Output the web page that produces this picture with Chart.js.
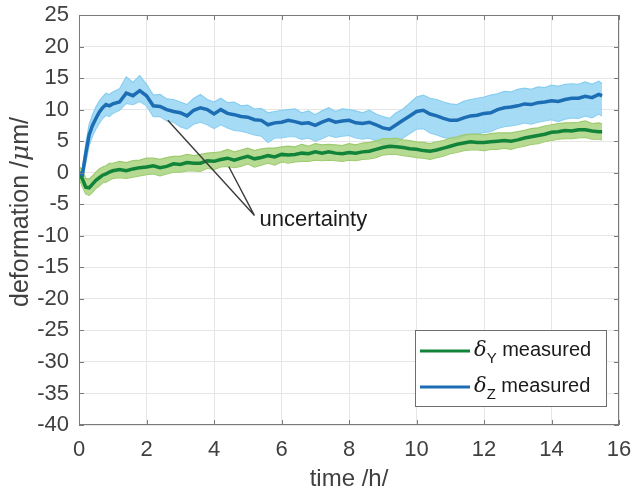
<!DOCTYPE html>
<html>
<head>
<meta charset="utf-8">
<script src="https://cdn.jsdelivr.net/npm/chart.js@4.4.1/dist/chart.umd.min.js"></script>
<style>
  body { margin: 0; background: #fff; }
  canvas { display: block; }
</style>
</head>
<body>
<canvas id="deformationChart" width="632" height="495"></canvas>
<script>
// measurement time in hours
const timeH = [
    0, 0.1, 0.2, 0.3, 0.4, 0.5, 0.6, 0.7, 0.8, 0.9,
    1.0, 1.2, 1.4, 1.6, 1.8, 2.0, 2.2, 2.4, 2.6, 2.8,
    3.0, 3.2, 3.4, 3.6, 3.8, 4.0, 4.2, 4.4, 4.6, 4.8,
    5.0, 5.2, 5.4, 5.6, 5.8, 6.0, 6.2, 6.4, 6.6, 6.8,
    7.0, 7.2, 7.4, 7.6, 7.8, 8.0, 8.2, 8.4, 8.6, 8.8,
    9.0, 9.2, 9.4, 9.6, 9.8, 10.0, 10.2, 10.4, 10.6, 10.8,
    11.0, 11.2, 11.4, 11.6, 11.8, 12.0, 12.2, 12.4, 12.6, 12.8,
    13.0, 13.2, 13.4, 13.6, 13.8, 14.0, 14.2, 14.4, 14.6, 14.8,
    15.0, 15.2, 15.4, 15.5
];

// delta Y measured (um) and its uncertainty band
const deltaY = [
    0, -1.0, -2.3, -2.4, -1.8, -1.2, -0.8, -0.4, -0.2, 0.1,
    0.3, 0.5, 0.3, 0.6, 0.8, 0.9, 1.1, 0.8, 1.0, 1.4,
    1.3, 1.6, 1.5, 1.5, 1.9, 1.8, 2.1, 2.3, 2.0, 2.3,
    2.6, 2.2, 2.4, 2.7, 2.5, 2.9, 2.8, 2.9, 3.1, 3.0,
    3.3, 3.1, 3.3, 3.1, 3.0, 3.2, 3.1, 3.3, 3.4, 3.7,
    4.0, 4.2, 4.1, 4.0, 3.8, 3.7, 3.5, 3.4, 3.6, 3.9,
    4.2, 4.5, 4.7, 4.9, 4.8, 4.8, 4.9, 5.0, 5.1, 5.0,
    5.2, 5.5, 5.7, 5.9, 6.1, 6.4, 6.5, 6.7, 6.6, 6.8,
    6.8, 6.6, 6.5, 6.5
];
const deltaYUpper = [
    1.0, 0.4, -0.9, -1.0, -0.5, 0.1, 0.6, 0.9, 1.1, 1.5,
    1.5, 1.8, 1.6, 1.9, 2.0, 2.3, 2.3, 2.1, 2.4, 2.6,
    2.6, 2.9, 2.7, 2.9, 3.1, 3.2, 3.3, 3.7, 3.3, 3.6,
    3.9, 3.5, 3.8, 3.9, 3.9, 4.1, 4.2, 4.1, 4.5, 4.2,
    4.6, 4.4, 4.5, 4.4, 4.3, 4.6, 4.4, 4.7, 4.8, 5.0,
    5.4, 5.4, 5.5, 5.2, 5.1, 4.9, 4.8, 4.6, 4.9, 5.1,
    5.5, 5.7, 6.0, 6.1, 6.1, 6.0, 6.2, 6.3, 6.3, 6.3,
    6.5, 6.7, 7.0, 7.1, 7.4, 7.6, 7.8, 7.9, 7.9, 8.0,
    8.2, 7.8, 7.9, 7.7
];
const deltaYLower = [
    -1.0, -2.2, -3.4, -3.6, -3.1, -2.5, -2.1, -1.6, -1.5, -1.2,
    -0.9, -0.8, -0.9, -0.7, -0.5, -0.3, -0.2, -0.5, -0.2, 0.1,
    0.1, 0.3, 0.3, 0.2, 0.7, 0.5, 0.9, 1.0, 0.8, 1.0,
    1.4, 0.9, 1.2, 1.5, 1.2, 1.7, 1.5, 1.7, 1.8, 1.8,
    2.0, 1.9, 2.0, 1.9, 1.8, 2.0, 1.9, 2.1, 2.2, 2.4,
    2.8, 2.9, 2.9, 2.7, 2.6, 2.4, 2.3, 2.1, 2.4, 2.6,
    3.0, 3.2, 3.5, 3.6, 3.6, 3.5, 3.7, 3.7, 3.9, 3.7,
    4.0, 4.2, 4.5, 4.6, 4.9, 5.1, 5.3, 5.4, 5.4, 5.5,
    5.6, 5.3, 5.3, 5.2
];

// delta Z measured (um) and its uncertainty band
const deltaZ = [
    0, -0.3, 3.0, 6.0, 7.5, 8.6, 9.6, 10.3, 10.8, 10.6,
    10.9, 11.2, 12.6, 12.2, 13.0, 12.2, 10.6, 10.5, 10.0, 9.7,
    9.5, 9.0, 9.9, 10.3, 10.0, 9.3, 10.0, 9.4, 9.2, 8.9,
    8.8, 8.4, 8.3, 7.6, 7.9, 8.0, 8.3, 8.1, 7.8, 7.9,
    7.5, 8.0, 8.4, 8.0, 8.2, 8.3, 7.9, 7.8, 8.0, 7.6,
    7.1, 6.9, 7.6, 8.3, 9.0, 9.7, 9.9, 9.3, 9.0, 8.6,
    8.3, 8.3, 8.7, 9.0, 9.1, 9.4, 9.5, 10.0, 10.3, 10.4,
    10.6, 10.9, 10.8, 11.1, 11.2, 11.4, 11.3, 11.6, 11.8, 11.8,
    12.1, 11.9, 12.4, 12.2
];
const deltaZUpper = [
    0.8, 0.6, 4.6, 7.6, 9.2, 10.4, 11.3, 12.0, 12.6, 12.4,
    12.8, 13.3, 15.2, 14.3, 15.4, 14.0, 12.3, 12.4, 11.7, 11.6,
    11.2, 10.8, 11.8, 12.4, 11.6, 11.2, 11.8, 11.1, 11.2, 10.6,
    10.7, 10.1, 10.2, 9.5, 9.7, 9.9, 10.0, 10.1, 9.5, 9.8,
    9.2, 9.8, 10.3, 9.7, 10.1, 10.0, 9.8, 9.5, 9.9, 9.3,
    8.9, 8.6, 9.5, 10.1, 11.0, 12.0, 12.3, 11.8, 11.6, 11.2,
    10.9, 10.8, 11.3, 11.6, 11.8, 12.0, 12.3, 12.5, 12.9, 12.8,
    13.2, 13.4, 13.2, 13.6, 13.5, 13.9, 13.7, 14.0, 14.1, 14.0,
    14.4, 14.0, 14.5, 14.1
];
const deltaZLower = [
    -0.8, -1.2, 1.5, 4.3, 5.8, 6.9, 7.8, 8.6, 9.1, 8.9,
    9.4, 9.9, 11.0, 10.8, 11.3, 10.6, 8.9, 8.9, 8.2, 8.0,
    7.3, 6.9, 7.7, 8.0, 7.6, 7.0, 7.6, 7.1, 6.7, 6.6,
    6.3, 6.0, 5.8, 4.8, 5.5, 5.5, 5.7, 5.7, 5.3, 5.5,
    5.0, 5.4, 5.9, 5.6, 5.8, 5.9, 5.5, 5.3, 5.5, 5.0,
    4.5, 4.2, 4.8, 5.5, 6.2, 6.9, 7.0, 6.3, 6.0, 5.6,
    5.4, 5.3, 5.8, 6.1, 6.1, 6.4, 6.5, 7.0, 7.3, 7.4,
    7.6, 7.9, 7.7, 8.0, 8.2, 8.4, 8.1, 8.5, 8.7, 8.6,
    9.0, 8.7, 9.3, 9.0
];

const xTickValues = [0, 2, 4, 6, 8, 10, 12, 14, 16];
const yTickValues = [25, 20, 15, 10, 5, 0, -5, -10, -15, -20, -25, -30, -35, -40];
const legendSubscripts = ['Y', 'Z'];

const FONT = '"Liberation Sans", Arial, sans-serif';
const GREEN = '#12843a';
const BLUE = '#1c6db4';
const AXIS_GRAY = '#7a7a7a';
const TEXT_GRAY = '#404040';

// turn a value array into {x, y} points on the time axis
function toPoints(values) {
    return values.map((v, i) => ({ x: timeH[i], y: v }));
}

// box around the plot area plus inward tick marks on all four sides
const axesBox = {
    id: 'axesBox',
    afterDatasetsDraw(chart) {
        const { ctx, chartArea: a, scales } = chart;
        ctx.save();
        ctx.strokeStyle = AXIS_GRAY;
        ctx.lineWidth = 1;
        ctx.strokeRect(a.left + 0.5, a.top + 0.5, a.right - a.left - 1, a.bottom - a.top - 1);
        ctx.beginPath();
        xTickValues.forEach(v => {
            const px = Math.round(scales.x.getPixelForValue(v)) + 0.5;
            ctx.moveTo(px, a.bottom); ctx.lineTo(px, a.bottom - 5);
            ctx.moveTo(px, a.top); ctx.lineTo(px, a.top + 5);
        });
        yTickValues.forEach(v => {
            const py = Math.round(scales.y.getPixelForValue(v)) + 0.5;
            ctx.moveTo(a.left, py); ctx.lineTo(a.left + 5, py);
            ctx.moveTo(a.right, py); ctx.lineTo(a.right - 5, py);
        });
        ctx.stroke();
        ctx.restore();
    }
};

// "uncertainty" note with two leader lines into the bands
const uncertaintyNote = {
    id: 'uncertaintyNote',
    afterDatasetsDraw(chart) {
        const { ctx, scales } = chart;
        const px = (t, v) => [scales.x.getPixelForValue(t), scales.y.getPixelForValue(v)];
        const [ex, ey] = px(5.2, -6.8);
        const targets = [px(2.63, 8.3), px(4.44, 0.94)];
        ctx.save();
        ctx.strokeStyle = '#3c3c3c';
        ctx.lineWidth = 1.4;
        ctx.beginPath();
        targets.forEach(([tx, ty]) => { ctx.moveTo(tx, ty); ctx.lineTo(ex, ey); });
        ctx.stroke();
        const [lx, ly] = px(5.35, -8.53);
        ctx.fillStyle = '#1a1a1a';
        ctx.font = '22px ' + FONT;
        ctx.textBaseline = 'alphabetic';
        ctx.fillText('uncertainty', lx, ly);
        ctx.restore();
    }
};

// legend box in the lower right corner, with delta symbols and subscripts
const deltaLegend = {
    id: 'deltaLegend',
    afterDraw(chart) {
        const { ctx } = chart;
        const colors = [GREEN, BLUE];
        ctx.save();
        ctx.fillStyle = '#fff';
        ctx.fillRect(415.5, 330.5, 191, 76);
        ctx.strokeStyle = '#6e6e6e';
        ctx.lineWidth = 1;
        ctx.strokeRect(415.5, 330.5, 191, 76);
        legendSubscripts.forEach((sub, i) => {
            const y = 351 + i * 36;
            ctx.strokeStyle = colors[i];
            ctx.lineWidth = 3;
            ctx.beginPath();
            ctx.moveTo(420, y); ctx.lineTo(470, y);
            ctx.stroke();
            ctx.fillStyle = '#1a1a1a';
            ctx.textBaseline = 'alphabetic';
            ctx.font = 'italic 21px "DejaVu Serif", serif';
            ctx.fillText('δ', 474, y + 5);
            let x = 474 + ctx.measureText('δ').width;
            ctx.font = '15px ' + FONT;
            ctx.fillText(sub, x, y + 12);
            x += ctx.measureText(sub).width;
            ctx.font = '20px ' + FONT;
            ctx.fillText(' measured', x, y + 5);
        });
        ctx.restore();
    }
};

// axis titles, the y title needs an italic mu
const axisTitles = {
    id: 'axisTitles',
    afterDraw(chart) {
        const { ctx, chartArea: a } = chart;
        ctx.save();
        ctx.fillStyle = TEXT_GRAY;
        ctx.textBaseline = 'alphabetic';
        ctx.font = '24px ' + FONT;
        ctx.textAlign = 'center';
        ctx.fillText('time /h/', (a.left + a.right) / 2, 486);

        const parts = [
            { text: 'deformation /', font: '25px ' + FONT },
            { text: 'μ', font: 'italic 25px "DejaVu Serif", serif' },
            { text: 'm/', font: '25px ' + FONT }
        ];
        ctx.textAlign = 'left';
        let total = 0;
        parts.forEach(p => { ctx.font = p.font; p.w = ctx.measureText(p.text).width; total += p.w; });
        ctx.translate(28, 212);
        ctx.rotate(-Math.PI / 2);
        let x = -total / 2;
        parts.forEach(p => { ctx.font = p.font; ctx.fillText(p.text, x, 0); x += p.w; });
        ctx.restore();
    }
};

function makeBand(label, values, edge, fillFrom, fillColor, order) {
    return {
        label: label,
        data: toPoints(values),
        borderColor: edge,
        borderWidth: 1.2,
        backgroundColor: fillColor,
        fill: fillFrom,
        pointRadius: 0,
        tension: 0,
        order: order
    };
}

const ctx = document.getElementById('deformationChart').getContext('2d');
const deformationChart = new Chart(ctx, {
    type: 'line',
    data: {
        datasets: [
            makeBand('dZ lower', deltaZLower, '#86cdf0', false, 'transparent', 5),
            makeBand('dZ upper', deltaZUpper, '#86cdf0', '-1', 'rgba(150,213,243,0.85)', 4),
            makeBand('dY lower', deltaYLower, '#9dca6e', false, 'transparent', 3),
            makeBand('dY upper', deltaYUpper, '#9dca6e', '-1', 'rgba(170,212,128,0.85)', 2),
            {
                label: 'dY measured',
                data: toPoints(deltaY),
                borderColor: GREEN,
                borderWidth: 3.5,
                pointRadius: 0,
                fill: false,
                order: 1
            },
            {
                label: 'dZ measured',
                data: toPoints(deltaZ),
                borderColor: BLUE,
                borderWidth: 3.5,
                pointRadius: 0,
                fill: false,
                order: 0
            }
        ]
    },
    options: {
        responsive: false,
        animation: false,
        devicePixelRatio: 1,
        layout: { padding: { top: 15, right: 13, left: 0, bottom: 0 } },
        plugins: {
            legend: { display: false },
            tooltip: { enabled: false }
        },
        scales: {
            x: {
                type: 'linear',
                min: 0,
                max: 16,
                afterBuildTicks: scale => { scale.ticks = xTickValues.map(v => ({ value: v })); },
                afterFit: scale => {
                    scale.height = 70;
                    scale.paddingLeft = 0;
                    scale.paddingRight = 0;
                },
                grid: { color: '#e6e6e6', drawTicks: false },
                border: { display: false },
                ticks: { color: TEXT_GRAY, padding: 12, maxRotation: 0, font: { family: FONT, size: 22 } }
            },
            y: {
                type: 'linear',
                min: -40,
                max: 25,
                afterBuildTicks: scale => { scale.ticks = yTickValues.map(v => ({ value: v })); },
                afterFit: scale => {
                    scale.width = 79;
                    scale.paddingTop = 0;
                    scale.paddingBottom = 0;
                },
                grid: { color: '#e6e6e6', drawTicks: false },
                border: { display: false },
                ticks: { color: TEXT_GRAY, padding: 10, font: { family: FONT, size: 22 } }
            }
        }
    },
    plugins: [axesBox, uncertaintyNote, axisTitles, deltaLegend]
});
</script>
</body>
</html>
